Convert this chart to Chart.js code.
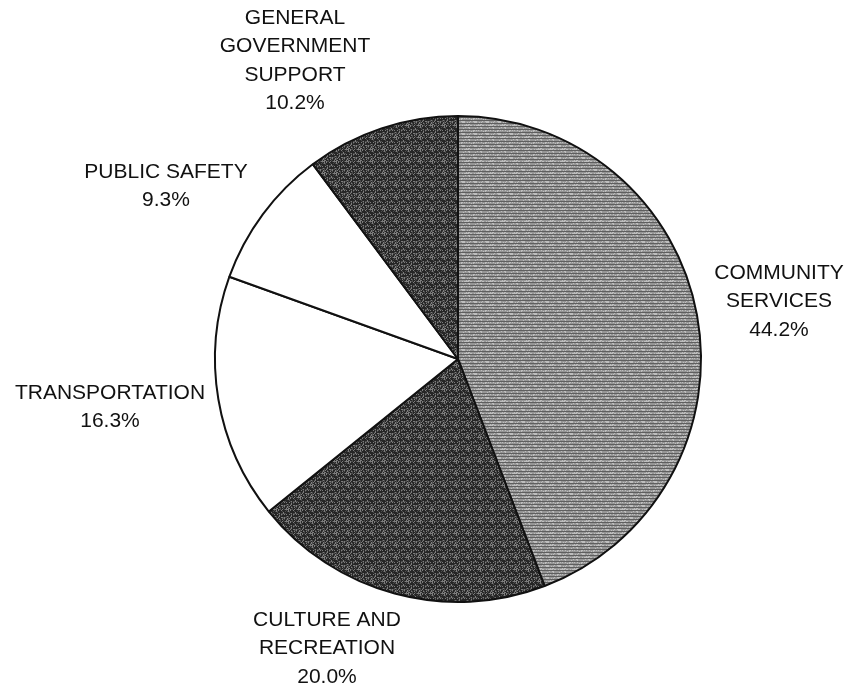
<!DOCTYPE html>
<html>
<head>
<meta charset="utf-8">
<script src="https://cdn.jsdelivr.net/npm/chart.js@4/dist/chart.umd.min.js"></script>
<style>
  html, body { margin: 0; padding: 0; background: #ffffff; }
  #wrap { width: 850px; height: 690px; }
</style>
</head>
<body>
<div id="wrap"><canvas id="c" width="850" height="690"></canvas></div>
<script>
// ---- data ----
const categories = [
  ["COMMUNITY", "SERVICES"],
  ["CULTURE AND", "RECREATION"],
  ["TRANSPORTATION"],
  ["PUBLIC SAFETY"],
  ["GENERAL", "GOVERNMENT", "SUPPORT"]
];
const percentages = [44.2, 20.0, 16.3, 9.3, 10.2];

// ---- styling ----
const labelAnchors = [ // center x, first-line center y
  [779, 273], [327, 620], [110, 393], [166, 172], [295, 18]
];
const lineHeight = 28.5;

function makePattern(kind) {
  const s = 12;
  const c = document.createElement('canvas');
  c.width = s; c.height = s;
  const g = c.getContext('2d');
  for (let y = 0; y < s; y++) {
    for (let x = 0; x < s; x++) {
      const h = ((x * 7 + y * 13) ^ (x * y * 5 + 3)) % 11;
      let v;
      if (kind === 'light') {
        v = (y % 3 === 0) ? 95 : (h < 3 ? 190 : 150);
      } else {
        v = h < 2 ? 125 : (h < 4 ? 75 : 38);
      }
      g.fillStyle = 'rgb(' + v + ',' + v + ',' + v + ')';
      g.fillRect(x, y, 1, 1);
    }
  }
  return g.createPattern(c, 'repeat');
}
const fills = [makePattern('light'), makePattern('dark'), '#ffffff', '#ffffff', makePattern('dark')];

const labelPlugin = {
  id: 'sliceLabels',
  afterDraw(chart) {
    const ctx = chart.ctx;
    ctx.save();
    ctx.fillStyle = '#111111';
    ctx.font = '21px "Liberation Sans", Arial, sans-serif';
    ctx.textAlign = 'center';
    ctx.textBaseline = 'middle';
    const data = chart.data.datasets[0].data;
    categories.forEach((lines, i) => {
      const [cx, cy] = labelAnchors[i];
      const all = lines.concat([data[i].toFixed(1) + '%']);
      all.forEach((t, k) => ctx.fillText(t, cx, cy + k * lineHeight));
    });
    ctx.restore();
  }
};

new Chart(document.getElementById('c'), {
  type: 'pie',
  data: {
    labels: categories.map(l => l.join(' ')),
    datasets: [{
      data: percentages,
      backgroundColor: fills,
      borderColor: '#111111',
      borderWidth: 2
    }]
  },
  options: {
    responsive: false,
    animation: false,
    layout: { padding: { left: 214, right: 148, top: 115, bottom: 87 } },
    plugins: { legend: { display: false }, tooltip: { enabled: false } }
  },
  plugins: [labelPlugin]
});
</script>
</body>
</html>
